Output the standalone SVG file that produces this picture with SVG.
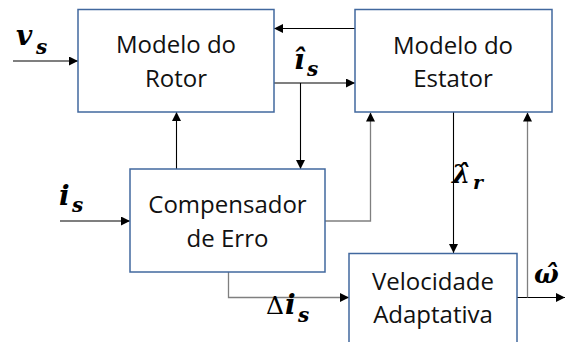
<svg xmlns="http://www.w3.org/2000/svg" width="565" height="342" viewBox="0 0 565 342">
<style>
.box{fill:#fff;stroke:#41689e;stroke-width:1.5}
.lbl{font-family:"Open Sans","Liberation Sans",sans-serif;font-size:24px;fill:#111;text-anchor:middle}
.c{fill:none;stroke:#000;stroke-width:1.1}
.g{fill:none;stroke:#7f7f7f;stroke-width:1.3}
.m{font-family:"DejaVu Serif","Liberation Serif",serif;font-weight:bold;font-style:italic;fill:#000}
.mr{font-family:"DejaVu Serif","Liberation Serif",serif;fill:#000}
</style>
<defs>
<marker id="a" markerUnits="userSpaceOnUse" markerWidth="9" markerHeight="9" refX="9" refY="4.5" orient="auto">
<path d="M0,0 L9,4.5 L0,9 z" fill="#000"/>
</marker>
</defs>
<rect width="565" height="342" fill="#fff"/>
<g id="connectors">
<path class="c" d="M13,61 H78" marker-end="url(#a)"/>
<path class="c" d="M355,28.5 H274" marker-end="url(#a)"/>
<path class="c" d="M274,83 H355" marker-end="url(#a)"/>
<path class="c" d="M300.5,83 V169" marker-end="url(#a)"/>
<path class="c" d="M176.5,169 V112" marker-end="url(#a)"/>
<path class="g" d="M325,221 H370.5 V112.5" marker-end="url(#a)"/>
<path class="c" d="M453.5,112 V253" marker-end="url(#a)"/>
<path class="c" d="M517,297.5 H565" marker-end="url(#a)"/>
<path class="g" d="M527.5,297.5 V112.5" marker-end="url(#a)"/>
<path class="c" d="M60,221 H130" marker-end="url(#a)"/>
<path class="g" d="M228.5,272 V297.5 H349" marker-end="url(#a)"/>
</g>
<g id="rotor">
<rect class="box" x="78" y="9.5" width="196" height="102.5"/>
<text class="lbl" x="176" y="53">Modelo do</text>
<text class="lbl" x="176" y="87">Rotor</text>
</g>
<g id="estator">
<rect class="box" x="355" y="9.5" width="197" height="102.5"/>
<text class="lbl" x="453" y="54">Modelo do</text>
<text class="lbl" x="453" y="87">Estator</text>
</g>
<g id="compensador">
<rect class="box" x="130" y="169" width="195" height="103"/>
<text class="lbl" x="227.5" y="213">Compensador</text>
<text class="lbl" x="227.5" y="247">de Erro</text>
</g>
<g id="velocidade">
<rect class="box" x="349" y="253.5" width="168" height="100"/>
<text class="lbl" x="433" y="290">Velocidade</text>
<text class="lbl" x="433" y="323">Adaptativa</text>
</g>
<g id="labels">
<text class="m" x="16" y="45" font-size="28">v</text><text class="m" x="36" y="54" font-size="20">s</text>
<text class="m" x="294" y="69" font-size="28">î</text><text class="m" x="307" y="76" font-size="20">s</text>
<text class="m" x="452" y="183" font-size="26">λ̂</text><text class="m" x="473" y="189" font-size="19">r</text>
<text class="m" x="59" y="205" font-size="28">i</text><text class="m" x="72" y="212" font-size="20">s</text>
<text class="mr" x="266" y="314" font-size="25">Δ</text><text class="m" x="285" y="314" font-size="28">i</text><text class="m" x="298" y="322" font-size="20">s</text>
<text class="m" x="534" y="283" font-size="26">ω̂</text>
</g>
</svg>
